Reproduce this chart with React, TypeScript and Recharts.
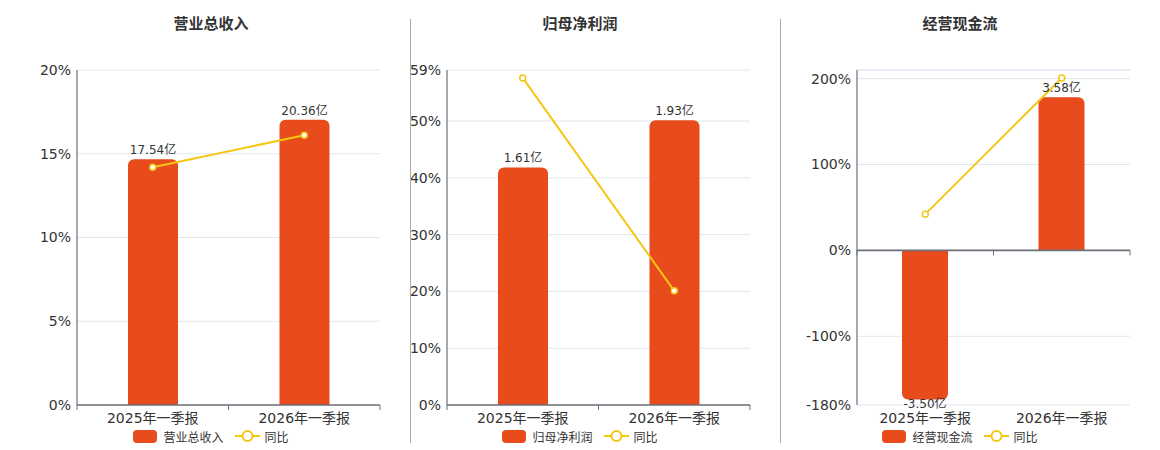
import React from 'react';
import {
  ComposedChart,
  Bar,
  Line,
  XAxis,
  YAxis,
  CartesianGrid,
  ReferenceLine,
  LabelList,
} from 'recharts';

const categories = ['2025年一季报', '2026年一季报'];

const revenue = [17.54, 20.36];
const revenueYoy = [14.2, 16.1];

const profit = [1.61, 1.93];
const profitYoy = [57.6, 20.1];

const cashflow = [-3.5, 3.58];
const cashflowYoy = [42.2, 200.7];

const FONT = '"DejaVu Sans", "Noto Sans CJK SC", sans-serif';
const BAR_COLOR = '#E84B1C';
const LINE_COLOR = '#F4C713';
const AXIS_COLOR = '#6e7079';
const GRID_COLOR = '#e0e6f1';

interface PanelProps {
  title: string;
  barName: string;
  values: number[];
  yoy: number[];
  barDomain: [number, number];
  pctDomain: [number, number];
  pctTicks: number[];
  left: number;
  width: number;
  center: number;
  yAxisWidth: number;
  marginLeft: number;
  barSize: number;
  extraGrid?: number;
}

// axis line drawn at the zero value, with tick marks on the category boundaries
const zeroAxis = (p: any) => {
  const { x1, x2, y1 } = p;
  const mid = (x1 + x2) / 2;
  return (
    <g>
      <line x1={x1} x2={x2} y1={y1} y2={y1} stroke={AXIS_COLOR} strokeWidth={1.6} />
      {[x1, mid, x2].map((x, i) => (
        <line key={i} x1={x} x2={x} y1={y1} y2={y1 + 5} stroke={AXIS_COLOR} strokeWidth={1} />
      ))}
    </g>
  );
};

// value label: above positive bars, just under the end of negative ones
const barLabel = (p: any) => {
  const { x, y, width, height, value } = p;
  const cx = x + width / 2;
  const top = Math.min(y, y + height);
  const bottom = Math.max(y, y + height);
  const neg = Number(value) < 0;
  return (
    <text
      x={cx}
      y={neg ? bottom + 9 : top - 5}
      textAnchor="middle"
      fill="#333"
      fontSize={12}
    >
      {`${Number(value).toFixed(2)}亿`}
    </text>
  );
};

function Legend({ name, center }: { name: string; center: number }) {
  return (
    <div
      style={{
        position: 'absolute',
        top: 429,
        left: center - 100,
        width: 200,
        height: 14,
        display: 'flex',
        justifyContent: 'center',
        alignItems: 'center',
        fontSize: 12,
        color: '#333',
        fontFamily: FONT,
      }}
    >
      <span style={{ width: 24, height: 13, borderRadius: 4, background: BAR_COLOR, display: 'inline-block' }} />
      <span style={{ marginLeft: 6 }}>{name}</span>
      <svg width={25} height={14} style={{ marginLeft: 11 }}>
        <line x1={0} x2={25} y1={7} y2={7} stroke={LINE_COLOR} strokeWidth={2} />
        <circle cx={12.5} cy={7} r={5} fill="#fff" stroke={LINE_COLOR} strokeWidth={2} />
      </svg>
      <span style={{ marginLeft: 5 }}>同比</span>
    </div>
  );
}

function Panel(props: PanelProps) {
  const data = categories.map((name, i) => ({ name, value: props.values[i], yoy: props.yoy[i] }));

  return (
    <>
      <div
        style={{
          position: 'absolute',
          top: 12,
          left: props.center - 100,
          width: 200,
          textAlign: 'center',
          fontSize: 15,
          fontWeight: 'bold',
          color: '#333',
          fontFamily: FONT,
        }}
      >
        {props.title}
      </div>
      <div style={{ position: 'absolute', left: props.left, top: 0 }}>
        <ComposedChart
          width={props.width}
          height={450}
          data={data}
          margin={{ top: 70, right: 30, bottom: 15, left: props.marginLeft }}
        >
          <CartesianGrid vertical={false} stroke={GRID_COLOR} yAxisId="pct" />
          <XAxis
            dataKey="name"
            axisLine={false}
            tickLine={false}
            height={30}
            tick={{ fontSize: 14, fill: '#333' }}
          />
          <YAxis
            yAxisId="pct"
            domain={props.pctDomain}
            ticks={props.pctTicks}
            width={props.yAxisWidth}
            tickFormatter={(v) => `${v}%`}
            axisLine={{ stroke: AXIS_COLOR, strokeWidth: 1.2 }}
            tickLine={false}
            tickSize={4}
            interval={0}
            tick={{ fontSize: 14, fill: '#333' }}
          />
          <YAxis yAxisId="bar" orientation="right" hide domain={props.barDomain} allowDataOverflow />
          {props.extraGrid !== undefined && (
            <ReferenceLine yAxisId="pct" y={props.extraGrid} stroke={GRID_COLOR} />
          )}
          <Bar
            yAxisId="bar"
            dataKey="value"
            name={props.barName}
            fill={BAR_COLOR}
            barSize={props.barSize}
            radius={[6, 6, 0, 0]}
            isAnimationActive={false}
          >
            <LabelList dataKey="value" content={barLabel} />
          </Bar>
          <ReferenceLine yAxisId="pct" y={0} shape={zeroAxis} />
          <Line
            yAxisId="pct"
            dataKey="yoy"
            name="同比"
            stroke={LINE_COLOR}
            strokeWidth={2}
            dot={{ r: 3, fill: '#fff', stroke: LINE_COLOR, strokeWidth: 1.5 }}
            isAnimationActive={false}
          />
        </ComposedChart>
      </div>
      <Legend name={props.barName} center={props.center} />
    </>
  );
}

export default function App() {
  return (
    <div
      style={{
        position: 'absolute',
        left: 0,
        top: 0,
        width: 1160,
        height: 450,
        background: '#fff',
        fontFamily: FONT,
        overflow: 'hidden',
      }}
    >
      <Panel
        title="营业总收入"
        barName="营业总收入"
        values={revenue}
        yoy={revenueYoy}
        barDomain={[0, 23.92]}
        pctDomain={[0, 20]}
        pctTicks={[0, 5, 10, 15, 20]}
        left={0}
        width={410}
        center={211}
        yAxisWidth={60}
        marginLeft={17}
        barSize={50}
      />
      <Panel
        title="归母净利润"
        barName="归母净利润"
        values={profit}
        yoy={profitYoy}
        barDomain={[0, 2.27]}
        pctDomain={[0, 59]}
        pctTicks={[0, 10, 20, 30, 40, 50, 59]}
        left={400}
        width={380}
        center={580}
        yAxisWidth={47}
        marginLeft={0}
        barSize={50}
      />
      <Panel
        title="经营现金流"
        barName="经营现金流"
        values={cashflow}
        yoy={cashflowYoy}
        barDomain={[-3.63, 4.22]}
        pctDomain={[-180, 210]}
        pctTicks={[-180, -100, 0, 100, 200]}
        left={780}
        width={380}
        center={960}
        yAxisWidth={60}
        marginLeft={17}
        barSize={46}
        extraGrid={210}
      />
      <div style={{ position: 'absolute', left: 410, top: 19, width: 1, height: 424, background: '#aaa' }} />
      <div style={{ position: 'absolute', left: 780, top: 19, width: 1, height: 424, background: '#aaa' }} />
    </div>
  );
}
